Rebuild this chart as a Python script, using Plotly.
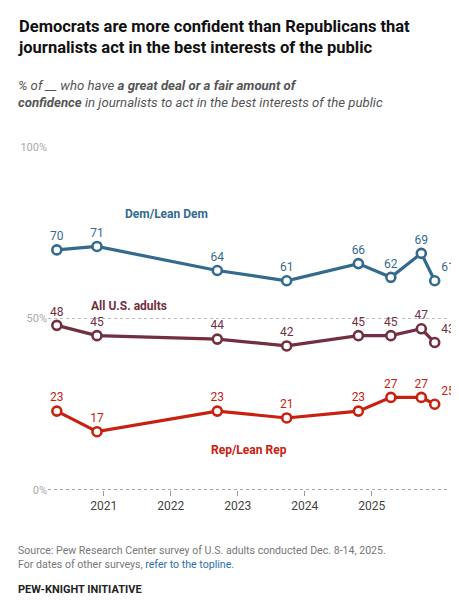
import plotly.graph_objects as go

dates = ["2020-04-20", "2020-11-25", "2022-09-12", "2023-09-25",
         "2024-10-20", "2025-04-15", "2025-09-28", "2025-12-10"]
dem = [70, 71, 64, 61, 66, 62, 69, 61]
total = [48, 45, 44, 42, 45, 45, 47, 43]
rep = [23, 17, 23, 21, 23, 27, 27, 25]

DEM_C, ALL_C, REP_C = "#346a8e", "#732f40", "#c9210f"
FONT = "Roboto, Arial, sans-serif"
W, H = 459, 600
TOP, BOT = 139, 482


def py(ypix):
    # page pixel -> paper coordinate
    return (BOT - ypix) / (BOT - TOP)


def series(y, color, name, last_pos="top right"):
    pos = ["top center"] * (len(y) - 1) + [last_pos]
    return go.Scatter(
        x=dates, y=y, name=name, mode="lines+markers+text",
        line=dict(color=color, width=3.2),
        marker=dict(size=9, color="white", line=dict(color=color, width=2.6)),
        text=[str(v) for v in y], textposition=pos,
        textfont=dict(color=color, size=12, family=FONT),
        cliponaxis=False, hoverinfo="skip",
    )


fig = go.Figure()
fig.add_trace(series(dem, DEM_C, "Dem/Lean Dem"))
fig.add_trace(series(total, ALL_C, "All U.S. adults"))
fig.add_trace(series(rep, REP_C, "Rep/Lean Rep"))

fig.update_layout(
    width=W, height=H, showlegend=False,
    margin=dict(l=40, r=20, t=TOP, b=H - BOT, autoexpand=False),
    paper_bgcolor="white", plot_bgcolor="white",
    font=dict(family=FONT, size=12, color="#222"),
    xaxis=dict(
        type="date", range=["2020-03-03", "2026-02-15"], automargin=False,
        tickvals=["2021-01-01", "2022-01-01", "2023-01-01", "2024-01-01", "2025-01-01"],
        ticktext=["2021", "2022", "2023", "2024", "2025"],
        showgrid=False, ticks="outside", ticklen=5, tickcolor="#999",
        tickfont=dict(size=12, color="#444"), zeroline=False,
    ),
    yaxis=dict(
        range=[0, 100], tickvals=[0, 50, 100], ticktext=["0%", "50%", "100%"],
        automargin=False,
        showgrid=True, gridcolor="#bbb", griddash="dot", gridwidth=1,
        tickfont=dict(size=11, color="#aaa"), zeroline=False, fixedrange=True,
    ),
)
fig.add_hline(y=0, line=dict(color="#888", width=1.5, dash="dot"))

for txt, xd, yv, col in [
    ("Dem/Lean Dem", "2021-12-10", 80.5, DEM_C),
    ("All U.S. adults", "2021-05-20", 53.6, ALL_C),
    ("Rep/Lean Rep", "2023-03-05", 11.6, REP_C),
]:
    fig.add_annotation(x=xd, y=yv, text=f"<b>{txt}</b>", showarrow=False,
                       font=dict(color=col, size=12, family=FONT))

notes = [
    (29, "<b>Democrats are more confident than Republicans that<br>journalists act in the best interests of the public</b>",
     dict(size=16.5, color="#111")),
    (86, "<i>% of __ who have <b>a great deal or a fair amount of<br>confidence</b> in journalists to act in the best interests of the public</i>",
     dict(size=13.2, color="#555")),
    (549, "Source: Pew Research Center survey of U.S. adults conducted Dec. 8-14, 2025.<br>"
          "For dates of other surveys, <span style='color:#2a6fb0'>refer to the topline</span>.",
     dict(size=10.6, color="#777")),
    (581, "<b>PEW-KNIGHT INITIATIVE</b>", dict(size=11, color="#222")),
]
for ypix, txt, f in notes:
    fig.add_annotation(xref="paper", yref="paper", x=-32 / 399, y=py(ypix),
                       xanchor="left", yanchor="middle", align="left",
                       text=txt, showarrow=False,
                       font=dict(family=FONT, **f))

fig.write_html("out.html")
